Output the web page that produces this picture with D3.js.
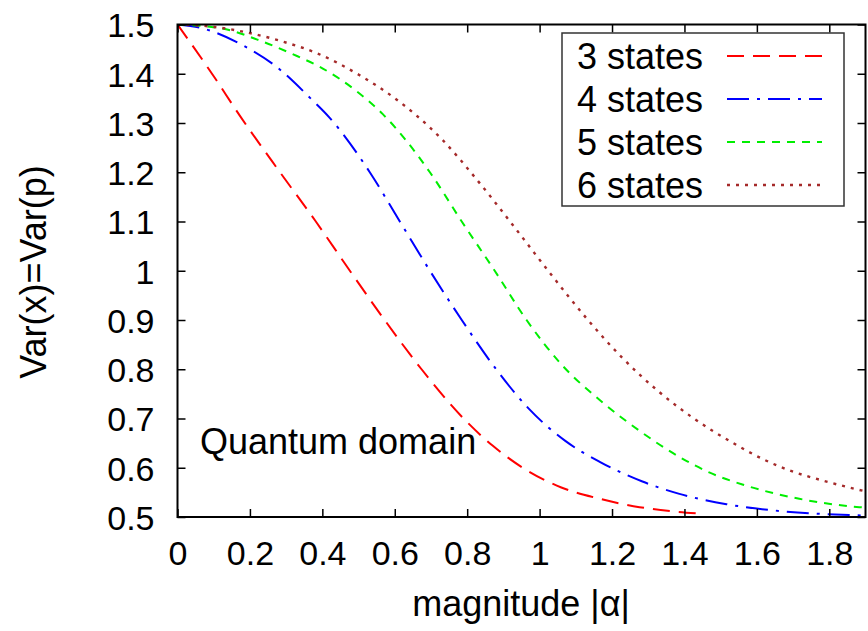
<!DOCTYPE html>
<html>
<head>
<meta charset="utf-8">
<script src="https://cdn.jsdelivr.net/npm/d3@7"></script>
<style>
  html, body { margin: 0; padding: 0; background: #fff; }
  svg text { font-family: "Liberation Sans", Arial, Helvetica, sans-serif; fill: #000; }
</style>
</head>
<body>
<svg id="chart" width="868" height="631"></svg>
<script>
// Variance vs. coherent amplitude for superpositions of N coherent states
const alpha3 = [0, 0.1, 0.172, 0.283, 0.382, 0.476, 0.572, 0.674, 0.79, 0.87, 0.96, 1.06, 1.166, 1.276, 1.36, 1.44];
const var3   = [1.5, 1.395, 1.315, 1.2, 1.1, 1.0, 0.9, 0.8, 0.7, 0.645, 0.597, 0.56, 0.537, 0.52, 0.512, 0.507];

const alpha4 = [0, 0.07, 0.18, 0.277, 0.366, 0.421, 0.531, 0.614, 0.697, 0.785, 0.88, 0.97, 1.07, 1.166, 1.284, 1.386, 1.516, 1.681, 1.855, 1.9];
const var4   = [1.5, 1.492, 1.458, 1.412, 1.351, 1.31, 1.2, 1.1, 1.0, 0.9, 0.8, 0.72, 0.655, 0.612, 0.572, 0.547, 0.526, 0.511, 0.504, 0.503];

const alpha5 = [0, 0.122, 0.236, 0.33, 0.393, 0.494, 0.567, 0.697, 0.785, 0.876, 0.964, 1.06, 1.17, 1.276, 1.386, 1.47, 1.56, 1.717, 1.883, 1.9];
const var5   = [1.5, 1.492, 1.465, 1.436, 1.414, 1.365, 1.318, 1.2, 1.1, 1.0, 0.9, 0.81, 0.735, 0.675, 0.622, 0.59, 0.566, 0.537, 0.52, 0.519];

const alpha6 = [0, 0.09, 0.191, 0.292, 0.384, 0.503, 0.595, 0.73, 0.83, 0.93, 1.03, 1.13, 1.23, 1.33, 1.432, 1.53, 1.621, 1.696, 1.772, 1.849, 1.9];
const var6   = [1.5, 1.496, 1.484, 1.465, 1.442, 1.397, 1.353, 1.267, 1.182, 1.089, 0.994, 0.903, 0.822, 0.754, 0.697, 0.652, 0.616, 0.593, 0.576, 0.561, 0.552];

const seriesNames = ["3 states", "4 states", "5 states", "6 states"];
const xTicks = [0, 0.2, 0.4, 0.6, 0.8, 1, 1.2, 1.4, 1.6, 1.8];
const yTicks = [0.5, 0.6, 0.7, 0.8, 0.9, 1, 1.1, 1.2, 1.3, 1.4, 1.5];

const series = [
  { name: seriesNames[0], xs: alpha3, ys: var3, color: "#ff0000", dash: "17,9", width: 2 },
  { name: seriesNames[1], xs: alpha4, ys: var4, color: "#0000ff", dash: "22,8,3,8", width: 2 },
  { name: seriesNames[2], xs: alpha5, ys: var5, color: "#00ee00", dash: "8,7", width: 2 },
  { name: seriesNames[3], xs: alpha6, ys: var6, color: "#a52a2a", dash: "3,6", width: 2.4 }
];

const svg = d3.select("#chart");
const plotL = 177.5, plotR = 865.5, plotT = 24.5, plotB = 517;
const x = d3.scaleLinear().domain([0, 1.9]).range([plotL, plotR]);
const y = d3.scaleLinear().domain([0.5, 1.5]).range([plotB, plotT]);
const tickFs = 34, fs = 36;

// curves, clipped to the plot frame
svg.append("defs").append("clipPath").attr("id", "plotclip")
  .append("rect").attr("x", plotL).attr("y", plotT).attr("width", plotR - plotL).attr("height", plotB - plotT);

const line = d3.line().curve(d3.curveMonotoneX);
const gCurves = svg.append("g").attr("clip-path", "url(#plotclip)");
series.forEach(s => {
  const pts = s.xs.map((a, i) => [x(a), y(s.ys[i])]);
  gCurves.append("path")
    .attr("d", line(pts))
    .attr("fill", "none")
    .attr("stroke", s.color)
    .attr("stroke-width", s.width)
    .attr("stroke-dasharray", s.dash);
});

// axes with mirrored ticks (inward)
const tickLen = 8;
const fmt = d => d3.format("")(+d.toFixed(1));
const axB = svg.append("g").attr("transform", `translate(0,${plotB})`)
  .call(d3.axisBottom(x).tickValues(xTicks).tickSize(-tickLen).tickFormat(fmt));
const axT = svg.append("g").attr("transform", `translate(0,${plotT})`)
  .call(d3.axisTop(x).tickValues(xTicks).tickSize(-tickLen).tickFormat(""));
const axL = svg.append("g").attr("transform", `translate(${plotL},0)`)
  .call(d3.axisLeft(y).tickValues(yTicks).tickSize(-tickLen).tickFormat(fmt));
const axR = svg.append("g").attr("transform", `translate(${plotR},0)`)
  .call(d3.axisRight(y).tickValues(yTicks).tickSize(-tickLen).tickFormat(""));
[axB, axT, axL, axR].forEach(g => {
  g.select(".domain").remove();
  g.selectAll(".tick line").attr("stroke", "#000").attr("stroke-width", 1.5);
  g.selectAll("text").attr("font-size", tickFs).attr("font-family", "Liberation Sans, Arial, sans-serif").attr("fill", "#000");
});
axB.selectAll("text").attr("dy", null).attr("y", 48);
axL.selectAll("text").attr("x", -23).attr("dy", "0.36em");

// frame
svg.append("rect").attr("x", plotL).attr("y", plotT).attr("width", plotR - plotL).attr("height", plotB - plotT)
  .attr("fill", "none").attr("stroke", "#000").attr("stroke-width", 2);

// legend
const lg = svg.append("g");
lg.append("rect").attr("x", 562).attr("y", 33).attr("width", 282).attr("height", 173)
  .attr("fill", "#fff").attr("stroke", "#333").attr("stroke-width", 1.5);
series.forEach((s, i) => {
  const cy = 56 + i * 43;
  lg.append("text").attr("x", 703).attr("y", cy).attr("dy", "0.36em")
    .attr("text-anchor", "end").attr("font-size", fs).text(s.name);
  lg.append("line").attr("x1", 727).attr("x2", 822).attr("y1", cy).attr("y2", cy)
    .attr("stroke", s.color).attr("stroke-width", s.width).attr("stroke-dasharray", s.dash);
});

// annotation and axis titles
svg.append("text").attr("x", 200).attr("y", 454).attr("font-size", fs).text("Quantum domain");
svg.append("text").attr("x", 521).attr("y", 616).attr("text-anchor", "middle").attr("font-size", fs).text("magnitude |α|");
svg.append("text").attr("transform", "translate(46,272) rotate(-90)").attr("text-anchor", "middle")
  .attr("font-size", fs).text("Var(x)=Var(p)");
</script>
</body>
</html>
